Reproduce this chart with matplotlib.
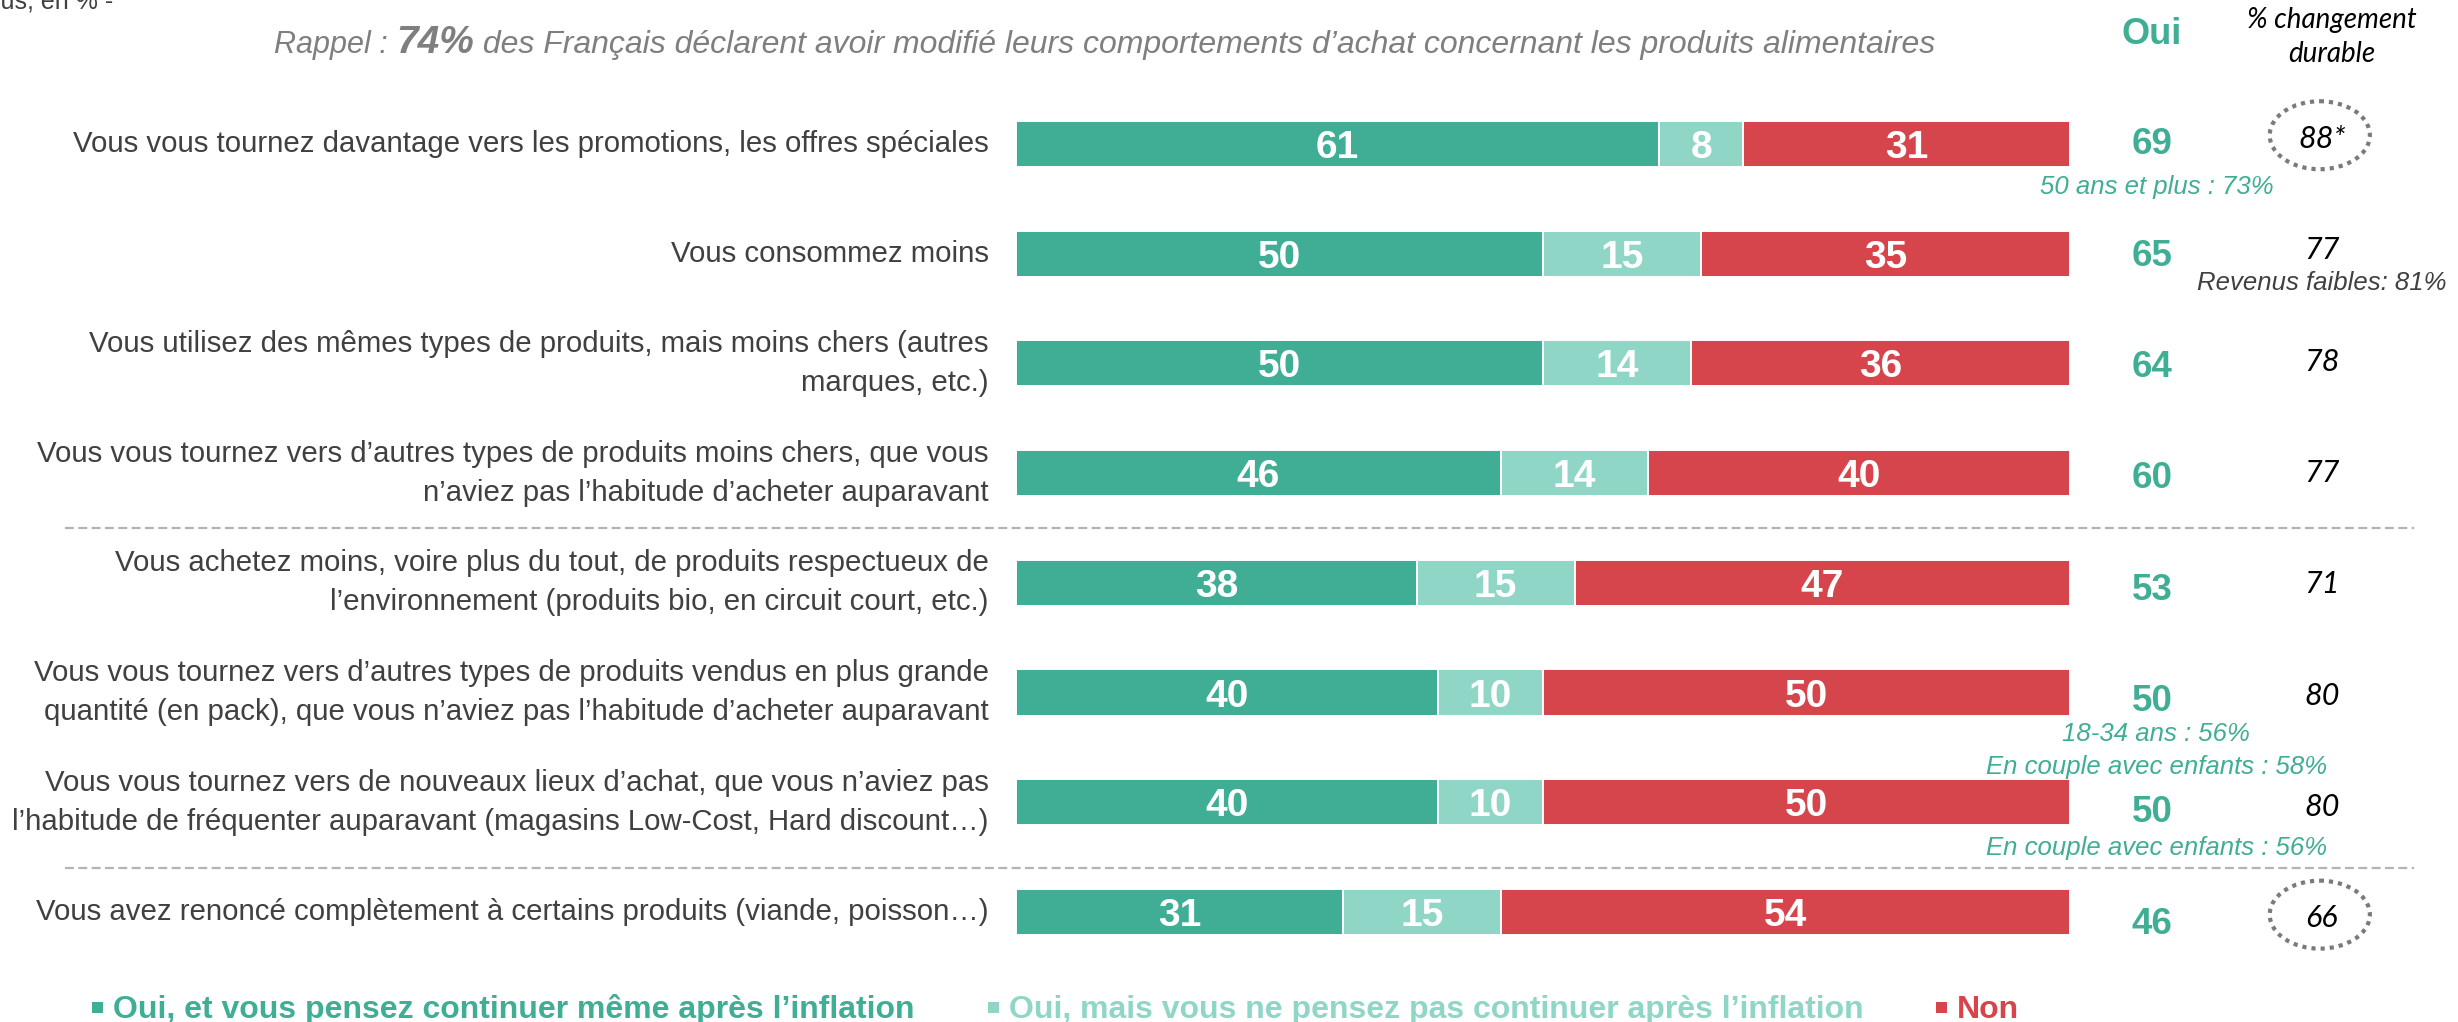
import matplotlib
matplotlib.use("Agg")
import matplotlib.pyplot as plt
from matplotlib.patches import Ellipse, Rectangle

labels = [
    "Vous vous tournez davantage vers les promotions, les offres spéciales",
    "Vous consommez moins",
    "Vous utilisez des mêmes types de produits, mais moins chers (autres\nmarques, etc.)",
    "Vous vous tournez vers d’autres types de produits moins chers, que vous\nn’aviez pas l’habitude d’acheter auparavant",
    "Vous achetez moins, voire plus du tout, de produits respectueux de\nl’environnement (produits bio, en circuit court, etc.)",
    "Vous vous tournez vers d’autres types de produits vendus en plus grande\nquantité (en pack), que vous n’aviez pas l’habitude d’acheter auparavant",
    "Vous vous tournez vers de nouveaux lieux d’achat, que vous n’aviez pas\nl’habitude de fréquenter auparavant (magasins Low-Cost, Hard discount…)",
    "Vous avez renoncé complètement à certains produits (viande, poisson…)",
]
oui_durable = [61, 50, 50, 46, 38, 40, 40, 31]
oui_temp = [8, 15, 14, 14, 15, 10, 10, 15]
non = [31, 35, 36, 40, 47, 50, 50, 54]
oui_total = [69, 65, 64, 60, 53, 50, 50, 46]
durable = ["88*", "77", "78", "77", "71", "80", "80", "66"]
durable_circled = [0, 7]
green_notes = [(0, "50 ans et plus : 73%"), (5, "18-34 ans : 56%"),
               (5, "En couple avec enfants : 58%"), (6, "En couple avec enfants : 56%")]
grey_notes = [(1, "Revenus faibles: 81%")]
legend_labels = ["Oui, et vous pensez continuer même après l’inflation",
                 "Oui, mais vous ne pensez pas continuer après l’inflation",
                 "Non"]
separators = [3.5, 6.6]

GREEN = "#3fae95"
LIGHT = "#8fd6c7"
RED = "#d6454b"
GREY = "#404040"
W, H = 2458, 1022

plt.rcParams['font.family'] = ['Liberation Sans', 'DejaVu Sans']

def fx(px):
    return px / W

def fy(py):
    return 1 - py / H

fig = plt.figure(figsize=(W / 100, H / 100), dpi=100)
ax = fig.add_axes([fx(1016), fy(966.75), 1054 / W, 877.6 / H])
ax.set_xlim(0, 100)
ax.set_ylim(7.5, -0.5)
ax.axis("off")

y = list(range(len(labels)))
left2 = [a for a in oui_durable]
left3 = [a + b for a, b in zip(oui_durable, oui_temp)]
for vals, lefts, col in [(oui_durable, [0] * 8, GREEN), (oui_temp, left2, LIGHT), (non, left3, RED)]:
    ax.barh(y, vals, left=lefts, height=0.42, color=col, edgecolor="white", linewidth=1.4)
    for i, (v, l) in enumerate(zip(vals, lefts)):
        ax.text(l + v / 2, i, str(v), ha="center", va="center_baseline", color="white",
                fontsize=28, fontweight="bold")

for i, lab in enumerate(labels):
    ax.text(-2.6, i, lab, ha="right", va="center", fontsize=21.2, color=GREY,
            linespacing=1.5, clip_on=False)

oui_x = 107.8
dur_x = 123.9
for i, v in enumerate(oui_total):
    ax.text(oui_x, i * 1.015 - 0.03, str(v), ha="center", va="center_baseline", color=GREEN,
            fontsize=26.5, fontweight="bold", clip_on=False)
for i, v in enumerate(durable):
    ax.text(dur_x, i * 1.015 - 0.07, v, ha="center", va="center_baseline", color="black",
            fontsize=22, style="italic", family=["Lato", "Open Sans", "DejaVu Sans"], clip_on=False)
for i in durable_circled:
    ax.add_patch(Ellipse((dur_x - 0.2, i * 1.015 - 0.08), 9.5, 0.62, fill=False,
                         edgecolor="#7a7a7a", linewidth=3, linestyle=(0, (1, 1.2)), clip_on=False))

note_y = {0: [0.39], 5: [0.38, 0.68], 6: [0.42]}
used = {}
for row, txt in green_notes:
    k = used.get(row, 0)
    used[row] = k + 1
    ax.text(oui_x + 0.4, row + note_y[row][k], txt, ha="center", va="center", color=GREEN,
            fontsize=18.5, style="italic", clip_on=False)
for row, txt in grey_notes:
    ax.text(dur_x, row + 0.27, txt, ha="center", va="center", color=GREY,
            fontsize=18.5, style="italic", clip_on=False)

for s in separators:
    ax.plot([-90.2, 132.6], [s, s], color="#b3b3b3", linewidth=1.6, linestyle=(0, (4, 2)),
            clip_on=False)

# headers
fig.text(fx(2152), fy(35), "Oui", ha="center", va="center", color=GREEN, fontsize=26,
         fontweight="bold")
fig.text(fx(2332), fy(37), "% changement\ndurable", ha="center", va="center", color="black",
         fontsize=20, style="italic", family=["Lato", "Open Sans", "DejaVu Sans"], linespacing=1.4)
fig.text(fx(113), fy(9), "Base : tous, en % -", ha="right", va="baseline", color=GREY, fontsize=18)

# rappel line, built in pieces
renderer = fig.canvas.get_renderer()
parts = [("Rappel : ", 22, "normal"), ("74%", 28, "bold"),
         (" des Français déclarent avoir modifié leurs comportements d’achat concernant les produits alimentaires", 23, "normal")]
x0 = fx(274)
for txt, size, wt in parts:
    t = fig.text(x0, fy(53), txt, ha="left", va="baseline", color="#7f7f7f", fontsize=size,
                 style="italic", fontweight=wt)
    x0 += t.get_window_extent(renderer).width / W

# legend
leg_cols = [GREEN, LIGHT, RED]
leg_x = [92, 988, 1936]
for lab, col, lx in zip(legend_labels, leg_cols, leg_x):
    fig.add_artist(Rectangle((fx(lx), fy(1013)), 11 / W, 11 / H, transform=fig.transFigure,
                             color=col, linewidth=0))
    fig.text(fx(lx + 21), fy(1018), lab, ha="left", va="baseline", color=col, fontsize=23,
             fontweight="bold")

fig.savefig("out.png", dpi=100)
